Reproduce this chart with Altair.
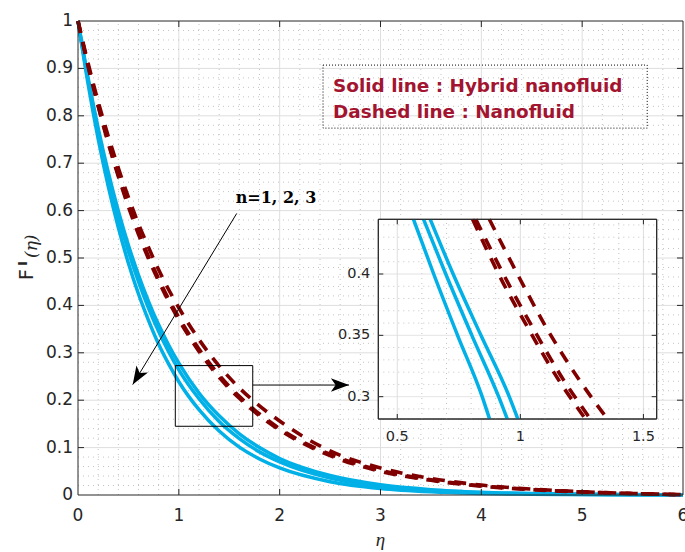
import altair as alt
import pandas as pd
import numpy as np

# ---------------- values ----------------
eta = [0.0, 0.1, 0.2, 0.3, 0.4, 0.5, 0.6, 0.7, 0.8, 0.9, 1.0, 1.2, 1.4, 1.6, 1.8,
       2.0, 2.5, 3.0, 3.5, 4.0, 4.5, 5.0, 5.5, 6.0]
hybrid_n1 = [1.0, 0.880, 0.774, 0.681, 0.599, 0.527, 0.464, 0.408, 0.359, 0.316, 0.278,
             0.215, 0.167, 0.129, 0.100, 0.077, 0.041, 0.0215, 0.0113, 0.006, 0.0032,
             0.0017, 0.0009, 0.0005]
hybrid_n2 = [1.0, 0.875, 0.766, 0.671, 0.587, 0.514, 0.450, 0.394, 0.345, 0.302, 0.264,
             0.203, 0.155, 0.119, 0.091, 0.070, 0.036, 0.0185, 0.0095, 0.0049, 0.0025,
             0.0013, 0.0007, 0.0003]
hybrid_n3 = [1.0, 0.867, 0.751, 0.651, 0.564, 0.489, 0.424, 0.368, 0.318, 0.276, 0.239,
             0.180, 0.135, 0.101, 0.076, 0.057, 0.028, 0.0137, 0.0067, 0.0033, 0.0016,
             0.0008, 0.0004, 0.0002]
nano_n1 = [1.0, 0.911, 0.830, 0.757, 0.690, 0.628, 0.572, 0.522, 0.475, 0.433, 0.395,
           0.328, 0.272, 0.226, 0.188, 0.156, 0.093, 0.057, 0.035, 0.021, 0.0125,
           0.007, 0.0033, 0.0006]
nano_n2 = [1.0, 0.906, 0.822, 0.745, 0.675, 0.612, 0.555, 0.503, 0.456, 0.413, 0.375,
           0.308, 0.253, 0.208, 0.171, 0.140, 0.086, 0.052, 0.032, 0.0195, 0.0118,
           0.0065, 0.0031, 0.0005]
nano_n3 = [1.0, 0.905, 0.820, 0.742, 0.672, 0.608, 0.550, 0.498, 0.451, 0.408, 0.370,
           0.303, 0.248, 0.204, 0.167, 0.137, 0.083, 0.050, 0.031, 0.0185, 0.0112,
           0.0062, 0.0030, 0.0005]

inset_f_hybrid = [0.4446, 0.40, 0.35, 0.30, 0.2818]
inset_hybrid_n1 = [0.634, 0.727, 0.840, 0.955, 0.990]
inset_hybrid_n2 = [0.607, 0.697, 0.803, 0.912, 0.947]
inset_hybrid_n3 = [0.566, 0.648, 0.745, 0.845, 0.875]
inset_f_nano = [0.4446, 0.392, 0.36, 0.3135, 0.285, 0.2818]
inset_nano_n1 = [0.874, 1.009, 1.095, 1.240, 1.342, 1.354]
inset_nano_n2 = [0.819, 0.952, 1.040, 1.176, 1.273, 1.284]
inset_nano_n3 = [0.806, 0.932, 1.020, 1.156, 1.253, 1.264]

x_ticks = [0, 1, 2, 3, 4, 5, 6]
x_tick_labels = ["0", "1", "2", "3", "4", "5", "6"]
y_ticks = [0, 0.1, 0.2, 0.3, 0.4, 0.5, 0.6, 0.7, 0.8, 0.9, 1.0]
y_tick_labels = ["0", "0.1", "0.2", "0.3", "0.4", "0.5", "0.6", "0.7", "0.8", "0.9", "1"]
inset_x_ticks = [0.5, 1.0, 1.5]
inset_x_tick_labels = ["0.5", "1", "1.5"]
inset_y_ticks = [0.3, 0.35, 0.4]
inset_y_tick_labels = ["0.3", "0.35", "0.4"]

legend_lines = ["Solid line : Hybrid nanofluid", "Dashed line : Nanofluid"]
n_label = "n=1, 2, 3"

# ---------------- layout ----------------
W, H = 605, 474
X_DOM, Y_DOM = [0, 6], [0, 1]
IX_DOM, IY_DOM = [0.423, 1.554], [0.2818, 0.4446]
IX_RANGE, IY_RANGE = [300.3, 578.7], [398.0, 198.3]

BLUE = "#00b0e6"
MAROON = "#800000"
TXT = "#262626"
MAJOR = "#dedede"
MINOR = "#c4c4c4"

mx = alt.Scale(domain=X_DOM, nice=False, zero=False)
my = alt.Scale(domain=Y_DOM, nice=False, zero=False)
ix = alt.Scale(domain=IX_DOM, range=IX_RANGE, nice=False, zero=False)
iy = alt.Scale(domain=IY_DOM, range=IY_RANGE, nice=False, zero=False)


def X(f, s):
    return alt.X(f, type="quantitative", scale=s, axis=None)


def Y(f, s):
    return alt.Y(f, type="quantitative", scale=s, axis=None)


def long_df(xs_by_series, ys_by_series):
    rows = []
    for name in xs_by_series:
        for i, (a, b) in enumerate(zip(xs_by_series[name], ys_by_series[name])):
            rows.append({"eta": a, "f": b, "series": name, "ord": i})
    return pd.DataFrame(rows)


main_solid = long_df({"n1": eta, "n2": eta, "n3": eta},
                     {"n1": hybrid_n1, "n2": hybrid_n2, "n3": hybrid_n3})
main_dash = long_df({"n1": eta, "n2": eta, "n3": eta},
                    {"n1": nano_n1, "n2": nano_n2, "n3": nano_n3})
ins_solid = long_df({"n1": inset_hybrid_n1, "n2": inset_hybrid_n2, "n3": inset_hybrid_n3},
                    {"n1": inset_f_hybrid, "n2": inset_f_hybrid, "n3": inset_f_hybrid})
ins_dash = long_df({"n1": inset_nano_n1, "n2": inset_nano_n2, "n3": inset_nano_n3},
                   {"n1": inset_f_nano, "n2": inset_f_nano, "n3": inset_f_nano})


def grid_layers(xdom, ydom, xs_major, ys_major, xs_minor, ys_minor, sx, sy):
    layers = []
    for vals, major in ((xs_minor, False), (xs_major, True)):
        d = pd.DataFrame({"v": vals, "lo": ydom[0], "hi": ydom[1]})
        m = alt.Chart(d).mark_rule(color=MAJOR if major else MINOR, strokeWidth=1,
                                   strokeDash=[1, 0] if major else [1, 4])
        layers.append(m.encode(x=X("v", sx), y=Y("lo", sy), y2="hi"))
    for vals, major in ((ys_minor, False), (ys_major, True)):
        d = pd.DataFrame({"v": vals, "lo": xdom[0], "hi": xdom[1]})
        m = alt.Chart(d).mark_rule(color=MAJOR if major else MINOR, strokeWidth=1,
                                   strokeDash=[1, 0] if major else [1, 4])
        layers.append(m.encode(y=Y("v", sy), x=X("lo", sx), x2="hi"))
    return layers


def inner_ticks(xdom, ydom, xt, yt, sx, sy, length_px, wpx, hpx):
    lx = length_px * (xdom[1] - xdom[0]) / wpx
    ly = length_px * (ydom[1] - ydom[0]) / hpx
    rows = []
    for t in xt:
        rows.append({"x": t, "x2": t, "y": ydom[0], "y2": ydom[0] + ly})
        rows.append({"x": t, "x2": t, "y": ydom[1], "y2": ydom[1] - ly})
    for t in yt:
        rows.append({"x": xdom[0], "x2": xdom[0] + lx, "y": t, "y2": t})
        rows.append({"x": xdom[1], "x2": xdom[1] - lx, "y": t, "y2": t})
    d = pd.DataFrame(rows)
    return alt.Chart(d).mark_rule(color=TXT, strokeWidth=1).encode(
        x=X("x", sx), x2="x2", y=Y("y", sy), y2="y2")


def frame(xdom, ydom, sx, sy, fill=None):
    d = pd.DataFrame({"x": [xdom[0]], "x2": [xdom[1]], "y": [ydom[0]], "y2": [ydom[1]]})
    kw = dict(stroke=TXT, strokeWidth=1)
    if fill:
        kw["fill"] = fill
    else:
        kw["fillOpacity"] = 0
    return alt.Chart(d).mark_rect(**kw).encode(x=X("x", sx), x2="x2", y=Y("y", sy), y2="y2")


# ---------------- main panel ----------------
main_minor_x = [round(v, 2) for v in np.arange(0.2, 6.0, 0.2) if abs(v - round(v)) > 1e-6]
main_minor_y = [round(v, 3) for v in np.arange(0.02, 1.0, 0.02)
                if abs(v * 10 - round(v * 10)) > 1e-6]
main_layers = grid_layers(X_DOM, Y_DOM, x_ticks[1:-1], y_ticks[1:-1],
                          main_minor_x, main_minor_y, mx, my)

main_layers.append(
    alt.Chart(main_solid).mark_line(color=BLUE, strokeWidth=3.5, interpolate="monotone")
    .encode(x=X("eta", mx), y=Y("f", my), detail="series", order="ord"))
main_layers.append(
    alt.Chart(main_dash).mark_line(color=MAROON, strokeWidth=3.6, strokeDash=[12, 9.5],
                                   strokeCap="butt", interpolate="monotone")
    .encode(x=X("eta", mx), y=Y("f", my), detail="series", order="ord"))
main_layers.append(frame(X_DOM, Y_DOM, mx, my))
main_layers.append(inner_ticks(X_DOM, Y_DOM, x_ticks[1:-1], y_ticks[1:-1], mx, my, 6, W, H))

xl = pd.DataFrame({"v": x_ticks, "t": x_tick_labels, "y": Y_DOM[0]})
main_layers.append(alt.Chart(xl).mark_text(font="DejaVu Sans", fontSize=17, color=TXT,
                                           baseline="top", align="center", dy=13)
                   .encode(x=X("v", mx), y=Y("y", my), text="t"))
yl = pd.DataFrame({"v": y_ticks, "t": y_tick_labels, "x": X_DOM[0]})
main_layers.append(alt.Chart(yl).mark_text(font="DejaVu Sans", fontSize=17, color=TXT,
                                           baseline="middle", align="right", dx=-5)
                   .encode(y=Y("v", my), x=X("x", mx), text="t"))

# axis titles
main_layers.append(alt.Chart(pd.DataFrame({"x": [3.0], "y": [0.0], "t": ["η"]}))
                   .mark_text(font="Liberation Serif", fontStyle="italic", fontSize=19,
                              color=TXT, baseline="middle", dy=45)
                   .encode(x=X("x", mx), y=Y("y", my), text="t"))
main_layers.append(alt.Chart(pd.DataFrame({"t": ["F"]}))
                   .mark_text(font="DejaVu Sans", fontSize=19, color=TXT, angle=270,
                              align="left", baseline="alphabetic")
                   .encode(x=alt.value(-45), y=alt.value(259), text="t"))
main_layers.append(alt.Chart(pd.DataFrame({"t": ["I"]}))
                   .mark_text(font="DejaVu Sans", fontSize=13, fontWeight="bold", color=TXT,
                              angle=270, align="left", baseline="alphabetic")
                   .encode(x=alt.value(-51), y=alt.value(245), text="t"))
main_layers.append(alt.Chart(pd.DataFrame({"t": ["(η)"]}))
                   .mark_text(font="DejaVu Serif", fontStyle="italic", fontSize=17, color=TXT,
                              angle=270, align="left", baseline="alphabetic")
                   .encode(x=alt.value(-41), y=alt.value(237), text="t"))

# legend box
box = pd.DataFrame({"x": [2.43], "x2": [5.645], "y": [0.907], "y2": [0.774]})
main_layers.append(alt.Chart(box).mark_rect(fillOpacity=0, stroke="black", strokeWidth=1,
                                            strokeDash=[1, 2])
                   .encode(x=X("x", mx), x2="x2", y=Y("y", my), y2="y2"))
leg = pd.DataFrame({"x": [2.53, 2.53], "y": [0.851, 0.795], "t": legend_lines})
main_layers.append(alt.Chart(leg).mark_text(font="DejaVu Sans", fontWeight="bold",
                                            fontSize=18.4, color="#a2142f", align="left",
                                            baseline="alphabetic")
                   .encode(x=X("x", mx), y=Y("y", my), text="t"))

# n label and arrows
main_layers.append(alt.Chart(pd.DataFrame({"x": [1.964], "y": [0.616], "t": [n_label]}))
                   .mark_text(font="DejaVu Serif", fontWeight="bold", fontSize=16,
                              color="black", align="center", baseline="alphabetic")
                   .encode(x=X("x", mx), y=Y("y", my), text="t"))
arrows = pd.DataFrame({"x": [1.574, 1.733], "y": [0.594, 0.232],
                       "x2": [0.543, 2.688], "y2": [0.233, 0.232], "ang": [211.3, 90.0]})
main_layers.append(alt.Chart(arrows).mark_rule(color="black", strokeWidth=1)
                   .encode(x=X("x", mx), y=Y("y", my), x2="x2", y2="y2"))
main_layers.append(alt.Chart(arrows).mark_point(
    shape="M0,0 L0.78,2.1 L0,1.55 L-0.78,2.1 Z", filled=True, size=300, opacity=1,
    color="black", strokeWidth=0)
    .encode(x=X("x2", mx), y=Y("y2", my), angle=alt.Angle("ang", type="quantitative",
                                                             scale=None)))
zoom_box = pd.DataFrame({"x": [0.965], "x2": [1.733], "y": [0.273], "y2": [0.145]})
main_layers.append(alt.Chart(zoom_box).mark_rect(fillOpacity=0, stroke="black", strokeWidth=1)
                   .encode(x=X("x", mx), x2="x2", y=Y("y", my), y2="y2"))

main = alt.layer(*main_layers)

# ---------------- inset panel ----------------
ins_layers = [frame(IX_DOM, IY_DOM, ix, iy, fill="white")]
ins_minor_x = [0.6, 0.7, 0.8, 0.9, 1.1, 1.2, 1.3, 1.4]
ins_minor_y = [0.29, 0.31, 0.32, 0.33, 0.34, 0.36, 0.37, 0.38, 0.39, 0.41, 0.42, 0.43, 0.44]
ins_layers += grid_layers(IX_DOM, IY_DOM, inset_x_ticks, inset_y_ticks,
                          ins_minor_x, ins_minor_y, ix, iy)
ins_layers.append(
    alt.Chart(ins_solid).mark_line(color=BLUE, strokeWidth=3.5, interpolate="monotone")
    .encode(x=X("eta", ix), y=Y("f", iy), detail="series", order="ord"))
ins_layers.append(
    alt.Chart(ins_dash).mark_line(color=MAROON, strokeWidth=3.6, strokeDash=[12, 9.5],
                                  strokeCap="butt", interpolate="monotone")
    .encode(x=X("eta", ix), y=Y("f", iy), detail="series", order="ord"))
ins_layers.append(frame(IX_DOM, IY_DOM, ix, iy))
ins_layers.append(inner_ticks(IX_DOM, IY_DOM, inset_x_ticks, inset_y_ticks, ix, iy, 5,
                              IX_RANGE[1] - IX_RANGE[0], IY_RANGE[0] - IY_RANGE[1]))
ixl = pd.DataFrame({"v": inset_x_ticks, "t": inset_x_tick_labels, "y": IY_DOM[0]})
ins_layers.append(alt.Chart(ixl).mark_text(font="DejaVu Sans", fontSize=14.5, color=TXT,
                                           baseline="top", align="center", dy=11)
                  .encode(x=X("v", ix), y=Y("y", iy), text="t"))
iyl = pd.DataFrame({"v": inset_y_ticks, "t": inset_y_tick_labels, "x": IX_DOM[0]})
ins_layers.append(alt.Chart(iyl).mark_text(font="DejaVu Sans", fontSize=14.5, color=TXT,
                                           baseline="middle", align="right", dx=-8)
                  .encode(y=Y("v", iy), x=X("x", ix), text="t"))
inset = alt.layer(*ins_layers)

chart = alt.layer(main, inset).resolve_scale(x="independent", y="independent").properties(
    width=W, height=H,
    autosize=alt.AutoSizeParams(type="none"),
    padding={"left": 78, "top": 21, "right": 2, "bottom": 57},
    background="white",
).configure_view(stroke=None)

chart.save("out.html", embed_options={"renderer": "svg", "actions": False})
